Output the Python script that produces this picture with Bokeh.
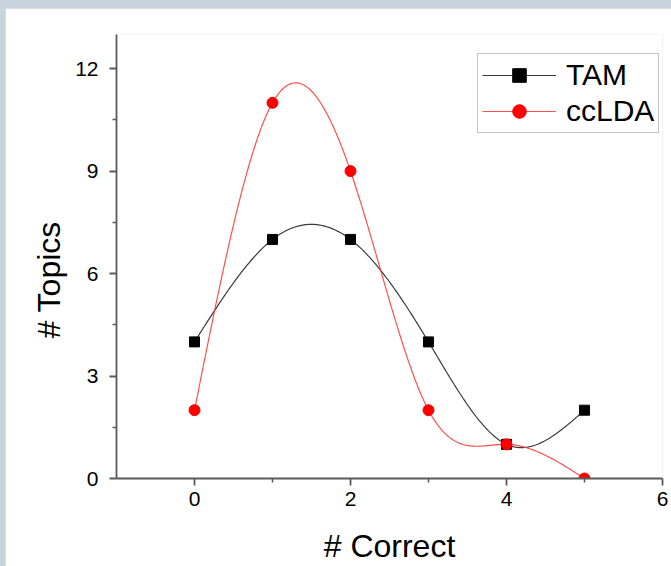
import numpy as np
from bokeh.plotting import figure
from bokeh.layouts import column
from bokeh.models import Range1d, Legend, LegendItem, FixedTicker, Title
from bokeh.embed import file_html
from bokeh.resources import INLINE

# ---- data ----
correct = [0, 1, 2, 3, 4, 5]
tam = [4, 7, 7, 4, 1, 2]
cclda = [2, 11, 9, 2, 1, 0]
x_ticks = [0, 2, 4, 6]
y_ticks = [0, 3, 6, 9, 12]


def natural_spline(x, y, n=300):
    x = np.asarray(x, float)
    y = np.asarray(y, float)
    k = len(x)
    h = np.diff(x)
    A = np.zeros((k, k))
    b = np.zeros(k)
    A[0, 0] = 1
    A[-1, -1] = 1
    for i in range(1, k - 1):
        A[i, i - 1] = h[i - 1]
        A[i, i] = 2 * (h[i - 1] + h[i])
        A[i, i + 1] = h[i]
        b[i] = 3 * ((y[i + 1] - y[i]) / h[i] - (y[i] - y[i - 1]) / h[i - 1])
    c = np.linalg.solve(A, b)
    xs = np.linspace(x[0], x[-1], n)
    idx = np.clip(np.searchsorted(x, xs, side="right") - 1, 0, k - 2)
    dx = xs - x[idx]
    bc = (y[1:] - y[:-1]) / h - h * (2 * c[:-1] + c[1:]) / 3
    d = (c[1:] - c[:-1]) / (3 * h)
    ys = y[idx] + bc[idx] * dx + c[idx] * dx ** 2 + d[idx] * dx ** 3
    return xs, ys


FONT = "Liberation Sans"
AXIS_COLOR = "#5a5a5a"

p = figure(width=666, height=558, output_backend="svg", toolbar_location=None,
           x_range=Range1d(-1, 6), y_range=Range1d(0, 13),
           min_border_left=111, min_border_right=9,
           min_border_top=26, min_border_bottom=87)
p.outline_line_color = None
p.grid.visible = False
p.background_fill_color = "white"
p.border_fill_color = "white"

tx, ty = natural_spline(correct, tam)
cx, cy = natural_spline(correct, cclda)

l1 = p.line(tx, ty, line_color="#3a3a3a", line_width=1.2)
m1 = p.scatter(correct, tam, marker="square", size=10, fill_color="black", line_color="black")
l2 = p.line(cx, cy, line_color="#ff3030", line_width=1.2, line_alpha=0.85)
m2 = p.scatter(correct, cclda, marker="circle", size=11, fill_color="#ff0000", line_color="#ff0000")

for ax in (p.xaxis[0], p.yaxis[0]):
    ax.axis_line_color = AXIS_COLOR
    ax.axis_line_width = 1.8
    ax.major_tick_line_color = AXIS_COLOR
    ax.minor_tick_line_color = AXIS_COLOR
    ax.major_tick_line_width = 1.8
    ax.minor_tick_line_width = 1.5
    ax.major_tick_out = 7
    ax.major_tick_in = 0
    ax.minor_tick_out = 4
    ax.minor_tick_in = 0
    ax.major_label_text_font = FONT
    ax.major_label_text_font_size = "21px"
    ax.major_label_text_color = "black"
    ax.axis_label_text_font = FONT
    ax.axis_label_text_font_size = "32px"
    ax.axis_label_text_font_style = "normal"
    ax.axis_label_text_color = "black"

p.xaxis[0].ticker = FixedTicker(ticks=x_ticks, minor_ticks=[1, 3, 5])
p.yaxis[0].ticker = FixedTicker(ticks=y_ticks, minor_ticks=[1.5, 4.5, 7.5, 10.5])
p.xaxis[0].axis_label = "# Correct"
p.xaxis[0].major_label_standoff = 6
p.xaxis[0].axis_label_standoff = 19
p.yaxis[0].major_label_standoff = 11

# y-axis title, placed lower than centre as in the reference
ytitle = Title(text="# Topics", align="left", offset=140, standoff=11,
               text_font=FONT, text_font_size="32px", text_font_style="normal",
               text_color="black")
p.add_layout(ytitle, "left")

legend = Legend(items=[LegendItem(label="TAM", renderers=[l1, m1]),
                       LegendItem(label="ccLDA", renderers=[l2, m2])],
                location=(361, 345))
legend.label_text_font = FONT
legend.label_text_font_size = "30px"
legend.label_text_color = "black"
legend.glyph_width = 74
legend.glyph_height = 34
legend.label_standoff = 10
legend.padding = 4
legend.spacing = 2
legend.margin = 0
legend.border_line_color = "#8a8a8a"
legend.border_line_width = 1.2
legend.background_fill_color = "white"
legend.background_fill_alpha = 1
p.add_layout(legend)

page = column(p, styles={"background-color": "#c8d4dc", "padding": "8px 0px 0px 5px"})

html = file_html(page, INLINE)
open("out.html", "w").write(html)
